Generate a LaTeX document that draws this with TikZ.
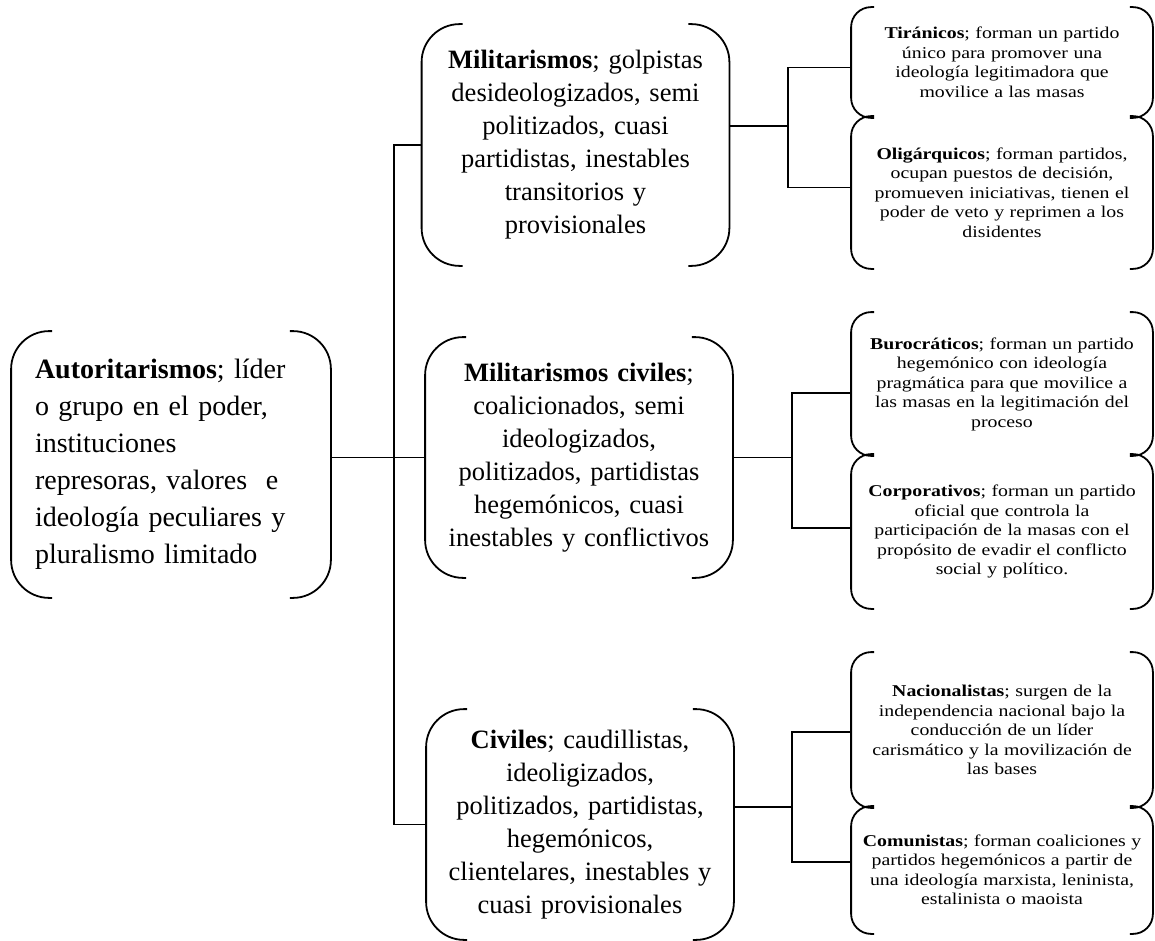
\documentclass[tikz,border=0pt]{standalone}
\usepackage{fontspec}
\setmainfont{Liberation Serif}
\newfontfamily\leaffont[FakeStretch=1.2]{Liberation Serif}
\begin{document}
\begin{tikzpicture}[x=1pt, y=-1pt, line width=1.8pt,
bracket/.style={inner sep=0pt, append after command={\pgfextra{
  \draw[rounded corners=#1] ([xshift=#1+3pt]\tikzlastnode.north west) -- (\tikzlastnode.north west) -- (\tikzlastnode.south west) -- ([xshift=#1+3pt]\tikzlastnode.south west);
  \draw[rounded corners=#1] ([xshift=-#1-3pt]\tikzlastnode.north east) -- (\tikzlastnode.north east) -- (\tikzlastnode.south east) -- ([xshift=-#1-3pt]\tikzlastnode.south east);}}},
root box/.style={bracket=38pt, minimum width=318pt, minimum height=265pt, text width=272pt, align=left, font=\fontsize{28}{37}\selectfont},
mid box/.style={bracket=38pt, minimum width=306pt, text width=280pt, align=center, font=\fontsize{26.5}{33}\selectfont},
leaf box/.style={bracket=20pt, minimum width=300pt, text width=300pt, align=center, font=\leaffont\fontsize{16.5}{19.5}\selectfont}]
\useasboundingbox (0,0) rectangle (1155,941);
% nivel 1
\node[root box] (root) at (171,464.5) {\textbf{Autoritarismos}; líder\\ o grupo en el poder,\\ instituciones\\ represoras, valores\ \ e\\ ideología peculiares y\\ pluralismo limitado};
% nivel 2
\node[mid box, minimum height=240pt] (mil) at (575.5,145) {\textbf{Militarismos}; golpistas\\ desideologizados, semi\\ politizados, cuasi\\ partidistas, inestables\\ transitorios y\\ provisionales};
\node[mid box, minimum height=239pt] (milciv) at (579,457.5) {\textbf{Militarismos civiles};\\ coalicionados, semi\\ ideologizados,\\ politizados, partidistas\\ hegemónicos, cuasi\\ inestables y conflictivos};
\node[mid box, minimum height=229pt] (civ) at (580,824.5) {\textbf{Civiles}; caudillistas,\\ ideoligizados,\\ politizados, partidistas,\\ hegemónicos,\\ clientelares, inestables y\\ cuasi provisionales};
% nivel 3
\node[leaf box, minimum height=109pt] (tir) at (1002,62.5) {\textbf{Tiránicos}; forman un partido\\ único para promover una\\ ideología legitimadora que\\ movilice a las masas};
\node[leaf box, minimum height=151pt] (oli) at (1002,192.5) {\textbf{Oligárquicos}; forman partidos,\\ ocupan puestos de decisión,\\ promueven iniciativas, tienen el\\ poder de veto y reprimen a los\\ disidentes};
\node[leaf box, minimum height=142pt] (buro) at (1002,384) {\textbf{Burocráticos}; forman un partido\\ hegemónico con ideología\\ pragmática para que movilice a\\ las masas en la legitimación del\\ proceso};
\node[leaf box, minimum height=153pt] (corp) at (1002,531.5) {\textbf{Corporativos}; forman un partido\\ oficial que controla la\\ participación de la masas con el\\ propósito de evadir el conflicto\\ social y político.};
\node[leaf box, minimum height=154pt] (nac) at (1002,730) {\textbf{Nacionalistas}; surgen de la\\ independencia nacional bajo la\\ conducción de un líder\\ carismático y la movilización de\\ las bases};
\node[leaf box, minimum height=126pt] (com) at (1002,870) {\textbf{Comunistas}; forman coaliciones y\\ partidos hegemónicos a partir de\\ una ideología marxista, leninista,\\ estalinista o maoista};
% conectores
\coordinate (trunk) at (394,457.5);
\coordinate (fork1) at (788,126);
\coordinate (fork2) at (792,457.5);
\coordinate (fork3) at (792,807);
\draw (root.east |- trunk) -- (milciv.west);
\draw (mil.west) -| (trunk) |- (civ.west);
\draw (mil.east |- fork1) -- (fork1);
\draw ([yshift=-5pt]tir.west) -| (fork1) |- ([yshift=5pt]oli.west);
\draw (milciv.east) -- (fork2);
\draw ([yshift=-9pt]buro.west) -| (fork2) |- ([yshift=3.5pt]corp.west);
\draw (civ.east |- fork3) -- (fork3);
\draw ([yshift=-2pt]nac.west) -| (fork3) |- ([yshift=8pt]com.west);
\end{tikzpicture}
\end{document}
